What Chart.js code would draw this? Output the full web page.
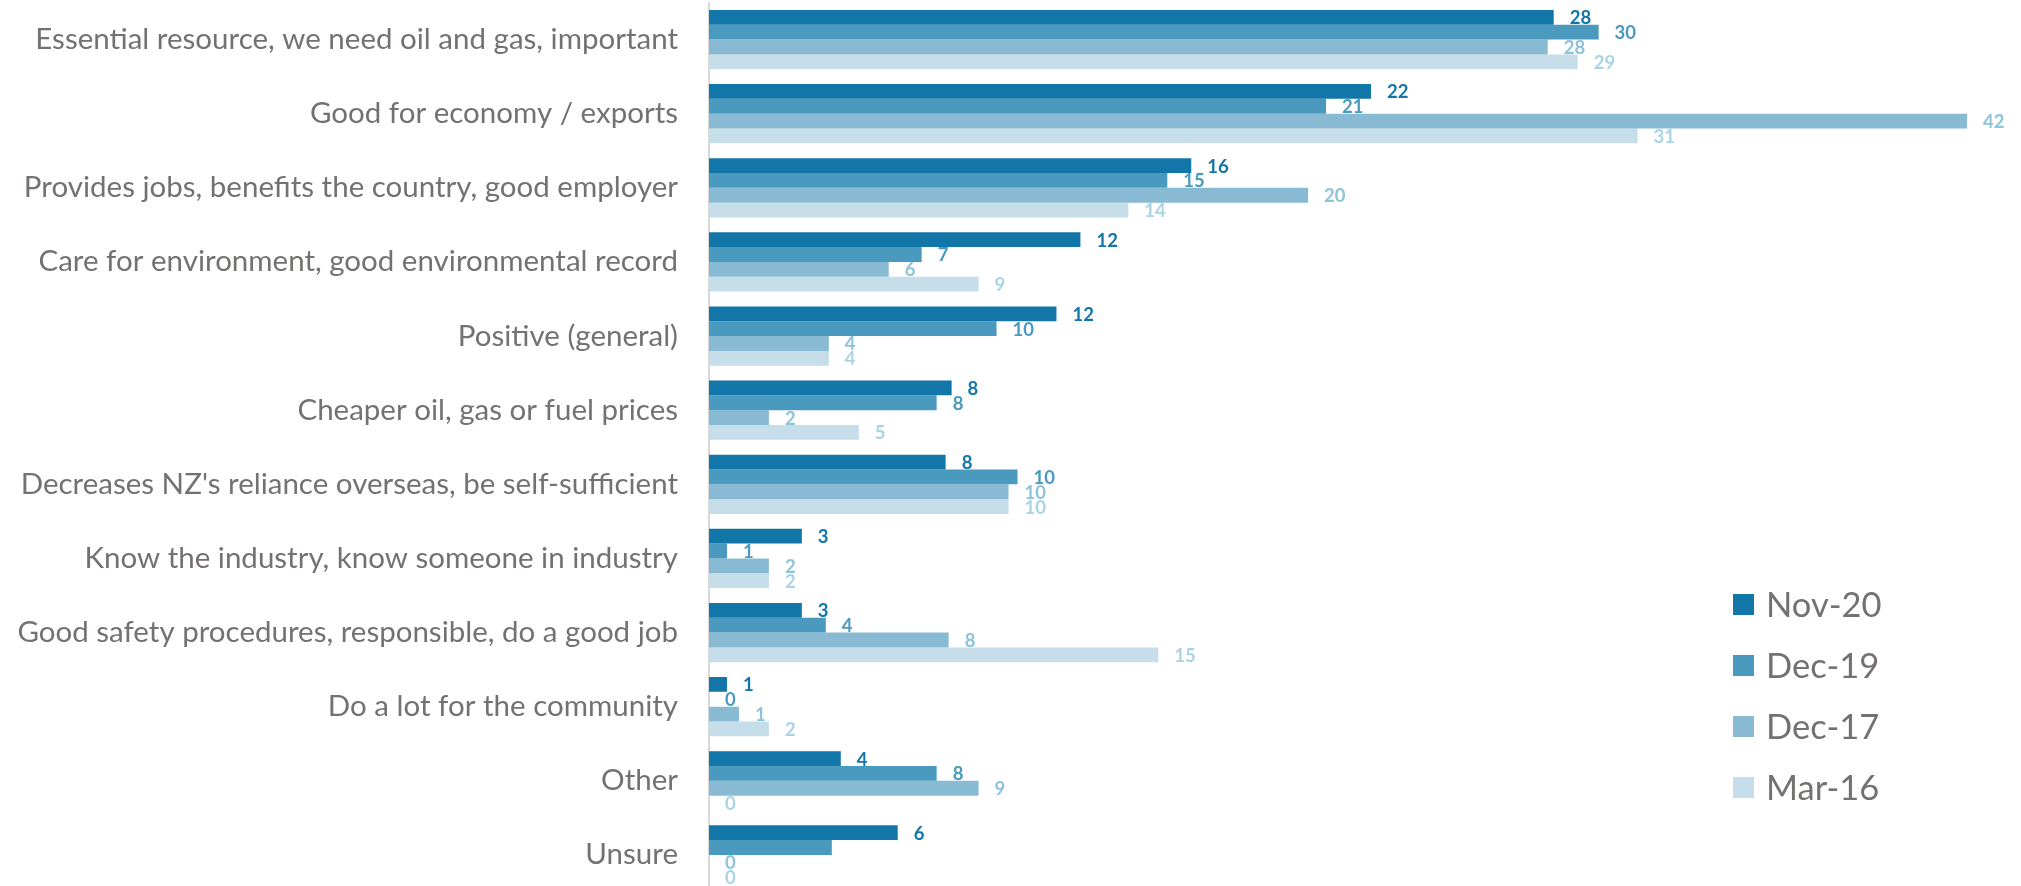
<!DOCTYPE html>
<html>
<head>
<meta charset="utf-8">
<script src="https://cdn.jsdelivr.net/npm/chart.js@4/dist/chart.umd.min.js"></script>
<style>
  html, body { margin: 0; padding: 0; background: #ffffff; overflow: hidden; }
  #wrap { position: relative; width: 2021px; height: 886px; overflow: hidden; }
  canvas { display: block; }
</style>
</head>
<body>
<div id="wrap"><canvas id="c" width="2021" height="892"></canvas></div>
<script>
const categories = [
  "Essential resource, we need oil and gas, important",
  "Good for economy / exports",
  "Provides jobs, benefits the country, good employer",
  "Care for environment, good environmental record",
  "Positive (general)",
  "Cheaper oil, gas or fuel prices",
  "Decreases NZ's reliance overseas, be self-sufficient",
  "Know the industry, know someone in industry",
  "Good safety procedures, responsible, do a good job",
  "Do a lot for the community",
  "Other",
  "Unsure"
];
const seriesNames = ["Nov-20", "Dec-19", "Dec-17", "Mar-16"];
const nov20 = [28.2, 22.1, 16.1, 12.4, 11.6, 8.1, 7.9, 3.1, 3.1, 0.6, 4.4, 6.3];
const dec19 = [29.7, 20.6, 15.3, 7.1, 9.6, 7.6, 10.3, 0.6, 3.9, 0, 7.6, 4.1];
const dec17 = [28.0, 42.0, 20.0, 6.0, 4.0, 2.0, 10.0, 2.0, 8.0, 1.0, 9.0, 0];
const mar16 = [29.0, 31.0, 14.0, 9.0, 4.0, 5.0, 10.0, 2.0, 15.0, 2.0, 0, 0];

const barColors = ["#1277A8", "#4A9ABF", "#88BBD3", "#C5DEE9"];
const labelColors = ["#1277A8", "#4A9ABF", "#8DC3DB", "#AAD3E6"];
const textGrey = "#767171";

const valueLabels = {
  id: 'valueLabels',
  afterDatasetsDraw(chart, args, opts) {
    const ctx = chart.ctx;
    ctx.save();
    ctx.font = opts.font;
    ctx.textAlign = 'left';
    ctx.textBaseline = 'middle';
    chart.data.datasets.forEach((ds, di) => {
      const meta = chart.getDatasetMeta(di);
      meta.data.forEach((el, i) => {
        if ((opts.hidden || []).some(h => h[0] === di && h[1] === i)) return;
        const v = ds.data[i];
        ctx.fillStyle = opts.colors[di];
        ctx.fillText(String(Math.round(v)), el.x + opts.offset, el.y + 1);
      });
    });
    ctx.restore();
  }
};

const overlayLegend = {
  id: 'overlayLegend',
  afterDraw(chart, args, opts) {
    const ctx = chart.ctx;
    ctx.save();
    ctx.font = opts.font;
    ctx.textAlign = 'left';
    ctx.textBaseline = 'middle';
    chart.data.datasets.forEach((ds, di) => {
      const cy = opts.y + di * opts.spacing;
      ctx.fillStyle = ds.backgroundColor;
      ctx.fillRect(opts.x, cy - opts.box / 2, opts.box, opts.box);
      ctx.fillStyle = opts.color;
      ctx.fillText(ds.label, opts.x + opts.box + opts.gap, cy + 1);
    });
    ctx.restore();
  }
};

function build() {
  new Chart(document.getElementById('c'), {
    type: 'bar',
    data: {
      labels: categories,
      datasets: [
        { label: seriesNames[0], data: nov20, backgroundColor: barColors[0] },
        { label: seriesNames[1], data: dec19, backgroundColor: barColors[1] },
        { label: seriesNames[2], data: dec17, backgroundColor: barColors[2] },
        { label: seriesNames[3], data: mar16, backgroundColor: barColors[3] }
      ]
    },
    options: {
      indexAxis: 'y',
      responsive: false,
      animation: false,
      devicePixelRatio: 1,
      layout: { padding: { top: 2.5, right: 24, bottom: 0, left: 0 } },
      datasets: { bar: { categoryPercentage: 0.8, barPercentage: 1.0, borderWidth: 0 } },
      scales: {
        x: { display: false, min: 0, max: 43 },
        y: {
          grid: { display: false, drawTicks: false },
          border: { display: true, color: '#D9D9D9', width: 2 },
          ticks: { color: textGrey, font: { family: 'Lato', size: 29.5 }, padding: 31, autoSkip: false },
          afterFit(scale) {
            scale.width = 709;
            scale.paddingTop = 0;
            scale.paddingBottom = 0;
          }
        }
      },
      plugins: {
        legend: { display: false },
        tooltip: { enabled: false },
        valueLabels: { font: 'bold 18.5px Lato', offset: 16, colors: labelColors, hidden: [[1, 11]] },
        overlayLegend: { x: 1733, y: 604.5, spacing: 61, box: 21, gap: 12, font: '34.5px Lato', color: textGrey }
      }
    },
    plugins: [valueLabels, overlayLegend]
  });
}

const fontLoads = [document.fonts.load('29.5px Lato'), document.fonts.load('bold 18.5px Lato'), document.fonts.load('34.5px Lato')];
Promise.all(fontLoads).then(build, build);
</script>
</body>
</html>
